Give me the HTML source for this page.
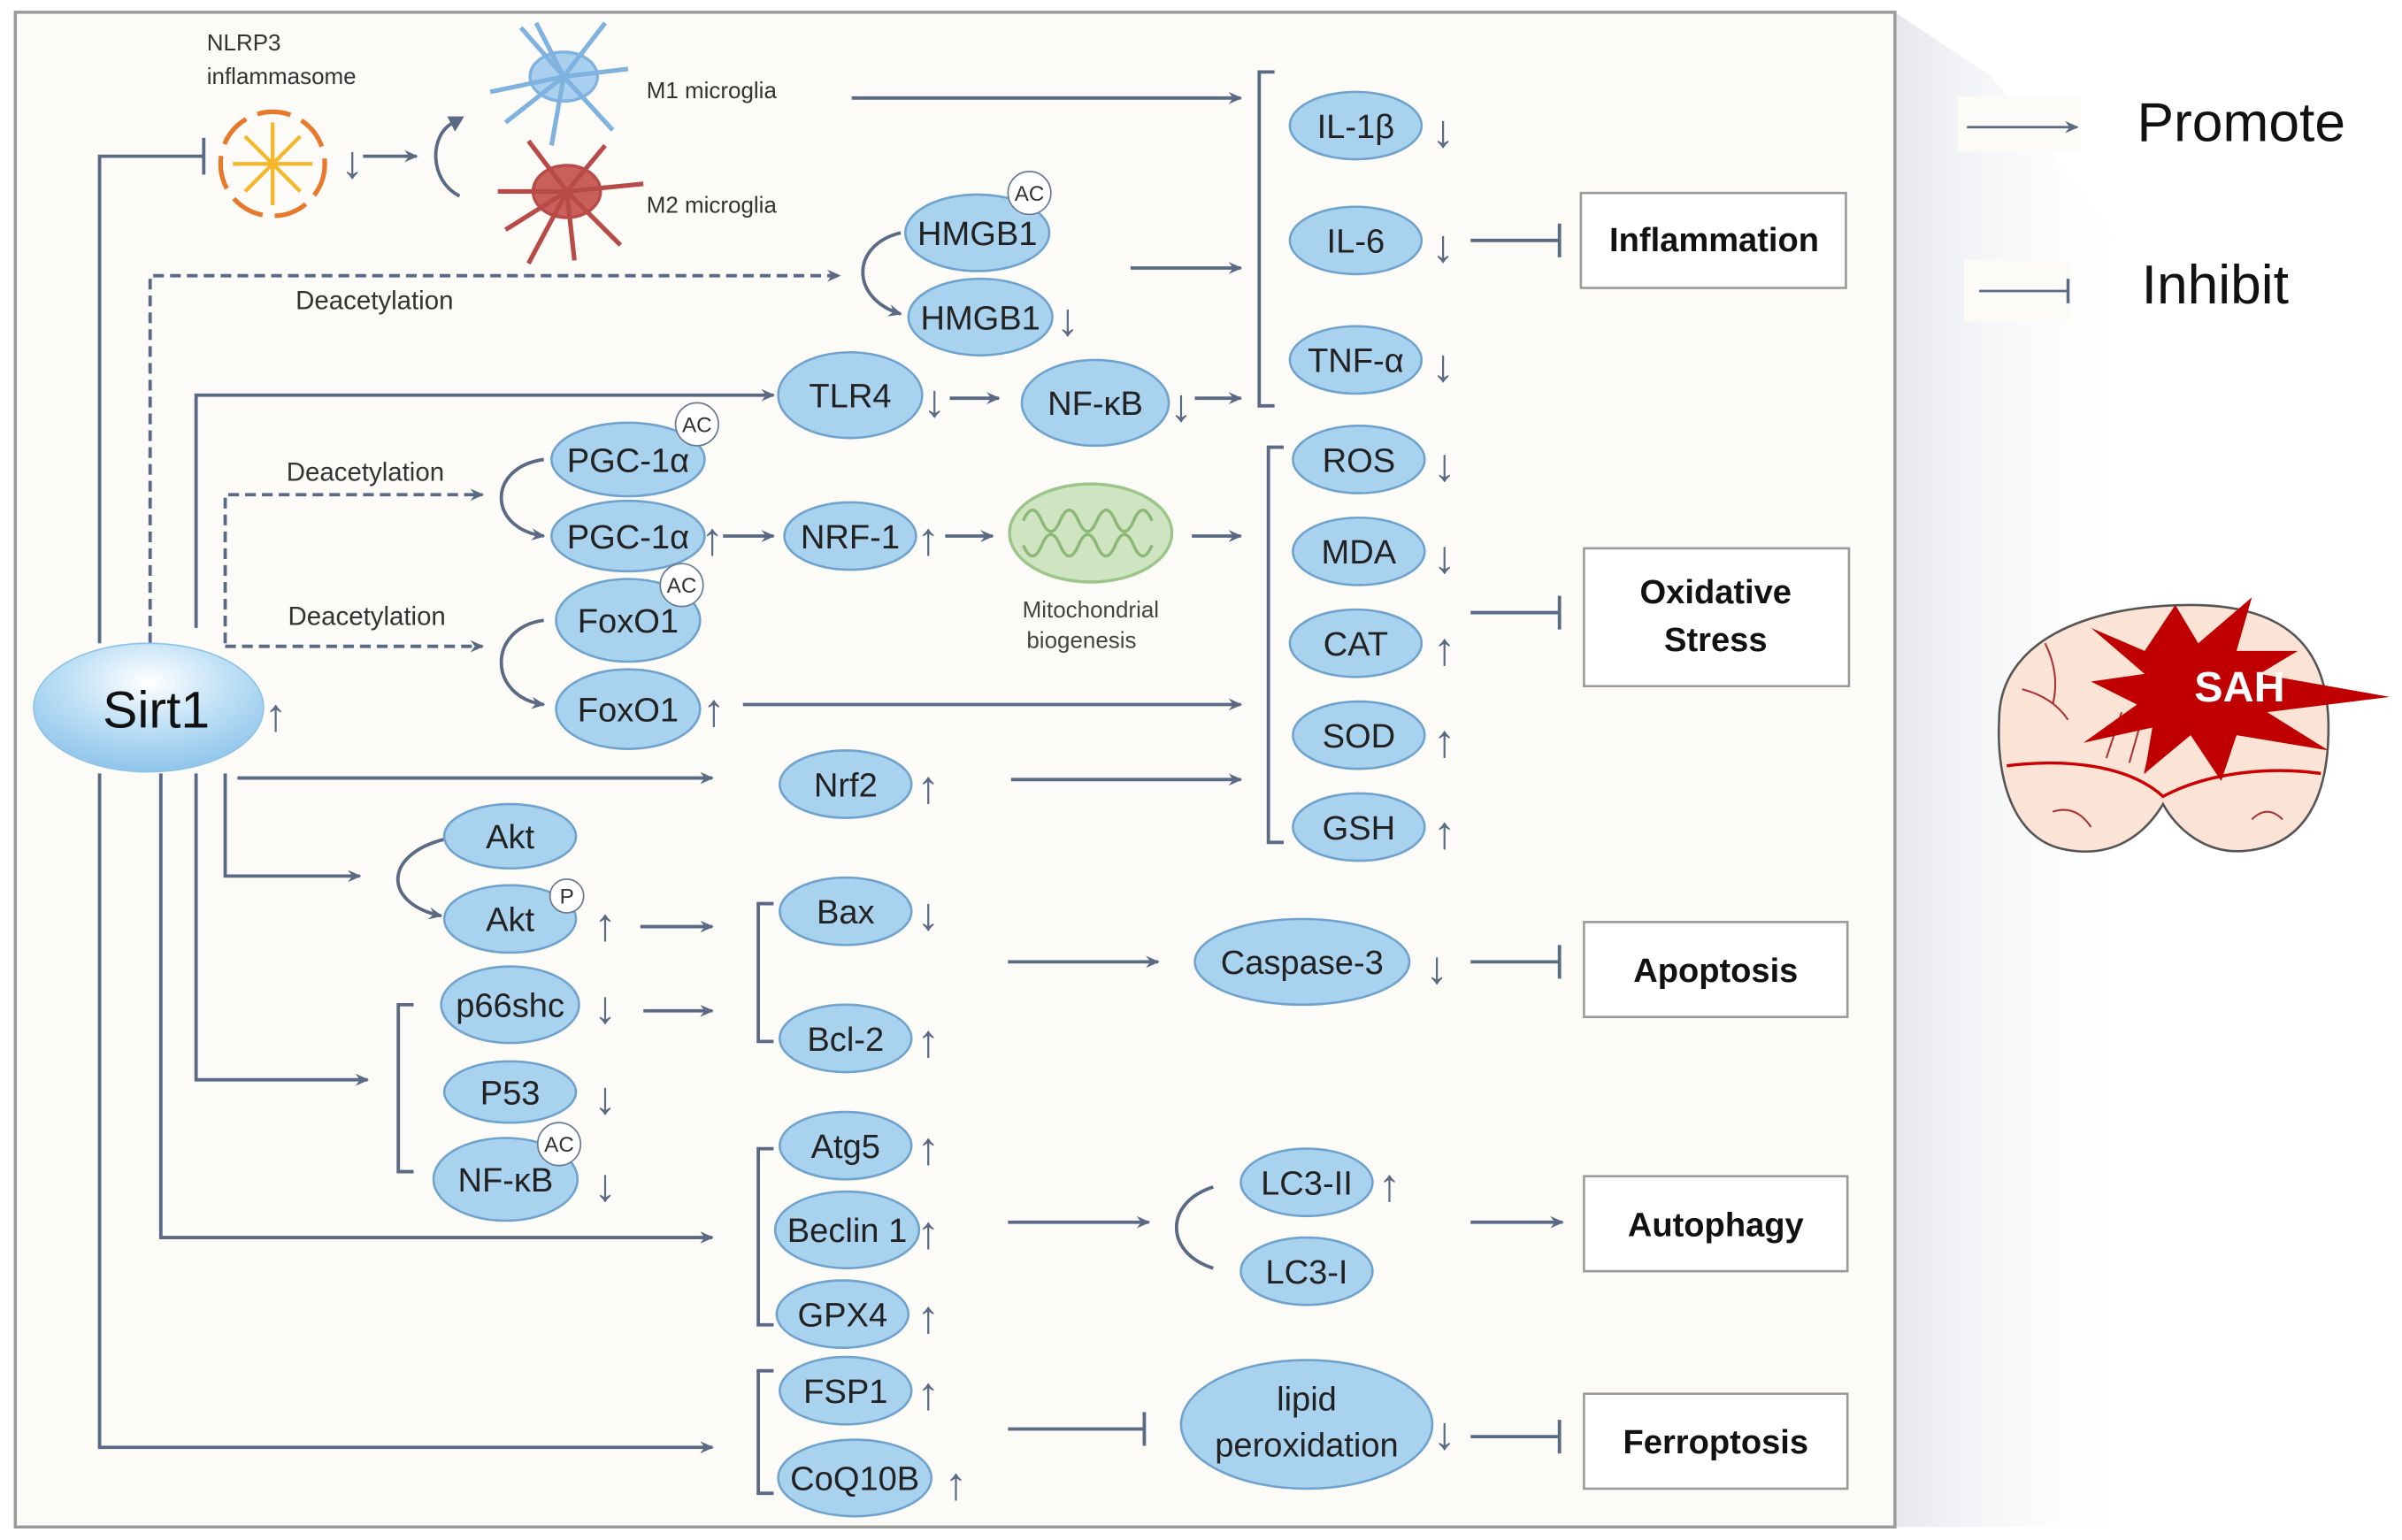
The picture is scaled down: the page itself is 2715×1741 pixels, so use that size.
<!DOCTYPE html>
<html><head><meta charset="utf-8"><style>
html,body{margin:0;padding:0;background:#fff;}
svg{display:block;}
text{font-family:"Liberation Sans",sans-serif;}
</style></head><body>
<svg width="2715" height="1741" viewBox="0 0 1568 1005.5" preserveAspectRatio="none" xmlns="http://www.w3.org/2000/svg">
<defs>
<marker id="a" markerWidth="10" markerHeight="10" refX="8" refY="5" orient="auto" markerUnits="userSpaceOnUse"><path d="M0,1 L9,5 L0,9 L3,5 Z" fill="#5a6a85"/></marker>
<linearGradient id="bg" x1="0" x2="1"><stop offset="0" stop-color="#e6e8ee"/><stop offset="1" stop-color="#fff" stop-opacity="0"/></linearGradient>
<radialGradient id="sg" cx="0.5" cy="0.3" r="0.7"><stop offset="0" stop-color="#ffffff"/><stop offset="0.5" stop-color="#bfe0f6"/><stop offset="1" stop-color="#8fc4ea"/></radialGradient>
</defs>
<polygon points="1237,8 1300,50 1400,180 1400,997 1237,997" fill="url(#bg)"/>
<rect x="10" y="8" width="1227" height="989" fill="#fcfbf7" stroke="#9a9a9a" stroke-width="2"/>
<g stroke="#5a6a85" stroke-width="2.2" fill="none">
<rect x="1278" y="63" width="80" height="36" fill="#fcfbf7" stroke="none"/>
<rect x="1282" y="170" width="70" height="40" fill="#fcfbf7" stroke="none"/>
<line x1="1284" y1="83" x2="1356" y2="83" marker-end="url(#a)" stroke-width="1.6"/>
<line x1="1292" y1="190" x2="1350" y2="190" stroke-width="1.6"/><line x1="1350" y1="182" x2="1350" y2="198" stroke-width="2"/>
<polyline points="65,420 65,102 133,102"/><line x1="133" y1="90" x2="133" y2="114"/>
<polyline points="65,505 65,945 465,945" marker-end="url(#a)"/>
<polyline points="98,420 98,180 548,180" stroke-dasharray="7,4" marker-end="url(#a)"/>
<polyline points="128,410 128,258 505,258" marker-end="url(#a)"/>
<polyline points="147,420 147,323 315,323" stroke-dasharray="7,4" marker-end="url(#a)"/>
<line x1="147" y1="422" x2="315" y2="422" stroke-dasharray="7,4" marker-end="url(#a)"/>
<polyline points="147,505 147,572 235,572" marker-end="url(#a)"/>
<line x1="155" y1="508" x2="465" y2="508" marker-end="url(#a)"/>
<polyline points="128,505 128,705 240,705" marker-end="url(#a)"/>
<polyline points="105,505 105,808 465,808" marker-end="url(#a)"/>
<line x1="237" y1="102" x2="272" y2="102" marker-end="url(#a)"/>
<path d="M300,128 C280,118 280,88 296,80"/>
<line x1="556" y1="64" x2="810" y2="64" marker-end="url(#a)"/>
<line x1="738" y1="175" x2="810" y2="175" marker-end="url(#a)"/>
<path d="M588,152 C555,160 555,195 588,205" marker-end="url(#a)"/>
<line x1="620" y1="260" x2="652" y2="260" marker-end="url(#a)"/>
<line x1="780" y1="260" x2="810" y2="260" marker-end="url(#a)"/>
<polyline points="832,47 822,47 822,265 832,265"/>
<line x1="960" y1="157" x2="1018" y2="157"/><line x1="1018" y1="146" x2="1018" y2="168"/>
<path d="M355,300 C318,305 318,345 355,350" marker-end="url(#a)"/>
<path d="M355,405 C318,410 318,455 355,460" marker-end="url(#a)"/>
<line x1="472" y1="350" x2="505" y2="350" marker-end="url(#a)"/>
<line x1="617" y1="350" x2="648" y2="350" marker-end="url(#a)"/>
<line x1="778" y1="350" x2="810" y2="350" marker-end="url(#a)"/>
<line x1="485" y1="460" x2="810" y2="460" marker-end="url(#a)"/>
<line x1="660" y1="509" x2="810" y2="509" marker-end="url(#a)"/>
<polyline points="838,292 828,292 828,550 838,550"/>
<line x1="960" y1="400" x2="1018" y2="400"/><line x1="1018" y1="389" x2="1018" y2="411"/>
<path d="M290,548 C250,558 250,590 288,598" marker-end="url(#a)"/>
<line x1="418" y1="605" x2="465" y2="605" marker-end="url(#a)"/>
<line x1="420" y1="660" x2="465" y2="660" marker-end="url(#a)"/>
<polyline points="270,656 260,656 260,765 270,765"/>
<polyline points="505,590 495,590 495,680 505,680"/>
<line x1="658" y1="628" x2="756" y2="628" marker-end="url(#a)"/>
<line x1="960" y1="628" x2="1018" y2="628"/><line x1="1018" y1="617" x2="1018" y2="639"/>
<polyline points="505,750 495,750 495,865 505,865"/>
<line x1="658" y1="798" x2="750" y2="798" marker-end="url(#a)"/>
<path d="M792,775 C760,785 760,818 792,828"/>
<line x1="960" y1="798" x2="1020" y2="798" marker-end="url(#a)"/>
<polyline points="505,895 495,895 495,975 505,975"/>
<line x1="658" y1="933" x2="747" y2="933"/><line x1="747" y1="922" x2="747" y2="944"/>
<line x1="960" y1="938" x2="1018" y2="938"/><line x1="1018" y1="927" x2="1018" y2="949"/>
</g>
<path d="M292,76 L303,76 L297,86 Z" fill="#5a6a85"/>
<g>
<ellipse cx="178" cy="107" rx="34" ry="34" fill="none" stroke="#e8782a" stroke-width="3" stroke-dasharray="22,8"/>
<g stroke="#f5b82a" stroke-width="2.5">
<line x1="178" y1="80" x2="178" y2="134"/><line x1="152" y1="107" x2="204" y2="107"/>
<line x1="160" y1="89" x2="196" y2="125"/><line x1="196" y1="89" x2="160" y2="125"/>
</g>
</g>
<g fill="#a9d0ef" stroke="#7fb2df" stroke-width="2">
<ellipse cx="368" cy="50" rx="22" ry="16"/>
<path d="M368,50 L340,18 M368,50 L395,15 M368,50 L410,45 M368,50 L330,80 M368,50 L360,95 M368,50 L320,60 M368,50 L400,85 M368,50 L350,15" fill="none" stroke-width="3"/>
</g>
<g fill="#c9605c" stroke="#b84a48" stroke-width="2">
<ellipse cx="370" cy="125" rx="22" ry="17"/>
<path d="M370,125 L345,92 M370,125 L395,95 M370,125 L420,120 M370,125 L330,150 M370,125 L345,172 M370,125 L405,160 M370,125 L325,125 M370,125 L375,170" fill="none" stroke-width="3"/>
</g>
<g fill="#a9d2ef" stroke="#6fa3cd" stroke-width="1.5">
<ellipse cx="885" cy="82" rx="43" ry="22"/><ellipse cx="885" cy="157" rx="43" ry="22"/><ellipse cx="885" cy="235" rx="43" ry="22"/>
<ellipse cx="887" cy="300" rx="43" ry="22"/><ellipse cx="887" cy="360" rx="43" ry="22"/><ellipse cx="885" cy="420" rx="43" ry="22"/><ellipse cx="887" cy="480" rx="43" ry="22"/><ellipse cx="887" cy="540" rx="43" ry="22"/>
<ellipse cx="638" cy="152" rx="47" ry="25"/><ellipse cx="640" cy="207" rx="47" ry="25"/>
<ellipse cx="555" cy="258" rx="47" ry="28"/><ellipse cx="715" cy="263" rx="48" ry="28"/>
<ellipse cx="410" cy="300" rx="50" ry="24"/><ellipse cx="410" cy="350" rx="50" ry="23"/>
<ellipse cx="555" cy="350" rx="43" ry="22"/>
<ellipse cx="410" cy="405" rx="47" ry="27"/><ellipse cx="410" cy="463" rx="47" ry="26"/>
<ellipse cx="552" cy="512" rx="43" ry="22"/>
<ellipse cx="333" cy="546" rx="43" ry="21"/><ellipse cx="333" cy="600" rx="43" ry="22"/>
<ellipse cx="333" cy="656" rx="45" ry="25"/><ellipse cx="333" cy="713" rx="43" ry="20"/><ellipse cx="330" cy="770" rx="47" ry="27"/>
<ellipse cx="552" cy="595" rx="43" ry="22"/><ellipse cx="552" cy="678" rx="43" ry="22"/>
<ellipse cx="850" cy="628" rx="70" ry="28"/>
<ellipse cx="552" cy="748" rx="43" ry="22"/><ellipse cx="553" cy="803" rx="47" ry="25"/><ellipse cx="550" cy="858" rx="43" ry="22"/>
<ellipse cx="552" cy="908" rx="43" ry="22"/><ellipse cx="558" cy="965" rx="50" ry="25"/>
<ellipse cx="853" cy="772" rx="43" ry="22"/><ellipse cx="853" cy="830" rx="43" ry="22"/>
<ellipse cx="853" cy="930" rx="82" ry="42"/>
</g>
<ellipse cx="97" cy="462" rx="75" ry="42" fill="url(#sg)" stroke="#8fc4ea"/>
<ellipse cx="712" cy="348" rx="53" ry="32" fill="#cfe4c0" stroke="#9cc58a" stroke-width="2"/>
<path d="M668,340 q6,-14 12,0 t12,0 t12,0 t12,0 t12,0 t12,0 t12,0 M668,356 q6,14 12,0 t12,0 t12,0 t12,0 t12,0 t12,0 t12,0" fill="none" stroke="#8bb876" stroke-width="2"/>
<g fill="#fff" stroke="#6a7a95" stroke-width="1">
<circle cx="672" cy="126" r="14"/><circle cx="455" cy="277" r="14"/><circle cx="445" cy="382" r="14"/><circle cx="370" cy="585" r="11"/><circle cx="365" cy="747" r="14"/>
</g>
<g font-size="14" fill="#333" text-anchor="middle">
<text x="672" y="131">AC</text><text x="455" y="282">AC</text><text x="445" y="387">AC</text><text x="370" y="590">P</text><text x="365" y="752">AC</text>
</g>
<g font-size="22" fill="#222" text-anchor="middle">
<text x="885" y="90">IL-1β</text><text x="885" y="165">IL-6</text><text x="885" y="243">TNF-α</text>
<text x="887" y="308">ROS</text><text x="887" y="368">MDA</text><text x="885" y="428">CAT</text><text x="887" y="488">SOD</text><text x="887" y="548">GSH</text>
<text x="638" y="160">HMGB1</text><text x="640" y="215">HMGB1</text>
<text x="555" y="266">TLR4</text><text x="715" y="271">NF-κB</text>
<text x="410" y="308">PGC-1α</text><text x="410" y="358">PGC-1α</text><text x="555" y="358">NRF-1</text>
<text x="410" y="413">FoxO1</text><text x="410" y="471">FoxO1</text><text x="552" y="520">Nrf2</text>
<text x="333" y="554">Akt</text><text x="333" y="608">Akt</text><text x="333" y="664">p66shc</text><text x="333" y="721">P53</text><text x="330" y="778">NF-κB</text>
<text x="552" y="603">Bax</text><text x="552" y="686">Bcl-2</text><text x="850" y="636">Caspase-3</text>
<text x="552" y="756">Atg5</text><text x="553" y="811">Beclin 1</text><text x="550" y="866">GPX4</text>
<text x="552" y="916">FSP1</text><text x="558" y="973">CoQ10B</text>
<text x="853" y="780">LC3-II</text><text x="853" y="838">LC3-I</text>
<text x="853" y="921">lipid</text><text x="853" y="951">peroxidation</text>
</g>
<text x="102" y="475" font-size="34" fill="#111" text-anchor="middle">Sirt1</text>
<g font-size="15" fill="#333">
<text x="135" y="33">NLRP3</text><text x="135" y="55">inflammasome</text>
<text x="422" y="64">M1 microglia</text><text x="422" y="139">M2 microglia</text>
</g>
<g font-size="17" fill="#333">
<text x="193" y="202">Deacetylation</text><text x="187" y="314">Deacetylation</text><text x="188" y="408">Deacetylation</text>
</g>
<g font-size="15" fill="#444" text-anchor="middle"><text x="712" y="403">Mitochondrial</text><text x="706" y="423">biogenesis</text></g>
<g font-size="30" fill="#5a6a85" text-anchor="middle">
<text x="230" y="116">↓</text>
<text x="942" y="96">↓</text><text x="942" y="171">↓</text><text x="942" y="249">↓</text>
<text x="943" y="314">↓</text><text x="943" y="374">↓</text><text x="943" y="434">↑</text><text x="943" y="494">↑</text><text x="943" y="554">↑</text>
<text x="697" y="219">↓</text><text x="610" y="272">↓</text><text x="771" y="275">↓</text>
<text x="465" y="362">↑</text><text x="606" y="362">↑</text><text x="466" y="474">↑</text><text x="606" y="524">↑</text>
<text x="180" y="477">↑</text>
<text x="395" y="614">↑</text><text x="395" y="668">↓</text><text x="395" y="727">↓</text><text x="395" y="784">↓</text>
<text x="606" y="607">↓</text><text x="606" y="690">↑</text><text x="938" y="642">↓</text>
<text x="606" y="760">↑</text><text x="606" y="815">↑</text><text x="606" y="870">↑</text>
<text x="606" y="920">↑</text><text x="624" y="979">↑</text>
<text x="907" y="784">↑</text><text x="943" y="946">↓</text>
</g>
<g fill="#fff" stroke="#9a9a9a" stroke-width="1.5">
<rect x="1032" y="126" width="173" height="62"/><rect x="1034" y="358" width="173" height="90"/>
<rect x="1034" y="602" width="172" height="62"/><rect x="1034" y="768" width="172" height="62"/><rect x="1034" y="910" width="172" height="62"/>
</g>
<g font-size="22" font-weight="bold" fill="#111" text-anchor="middle">
<text x="1119" y="164">Inflammation</text><text x="1120" y="394">Oxidative</text><text x="1120" y="425">Stress</text>
<text x="1120" y="641">Apoptosis</text><text x="1120" y="807">Autophagy</text><text x="1120" y="949">Ferroptosis</text>
</g>
<g font-size="36" fill="#111"><text x="1395" y="92">Promote</text><text x="1398" y="198">Inhibit</text></g>
<path d="M1305,470 C1305,420 1360,395 1430,395 C1500,395 1520,430 1520,475 C1520,520 1505,550 1470,555 C1440,560 1420,540 1412,525 C1400,545 1380,560 1350,555 C1315,550 1303,510 1305,470 Z" fill="#fbe3d6" stroke="#555" stroke-width="1.5"/>
<path d="M1310,500 C1350,495 1390,500 1412,520 C1440,505 1480,500 1515,505" fill="none" stroke="#c00" stroke-width="2"/>
<path d="M1320,450 q20,5 30,20 M1335,420 q10,20 5,40 M1340,530 q15,-5 25,10 M1470,535 q10,-10 20,0 M1375,495 l10,-30 M1390,498 l8,-28 M1400,505 l6,-25" fill="none" stroke="#a33" stroke-width="1.2"/>
<polygon points="1365,410 1400,425 1420,395 1435,420 1470,390 1460,425 1500,425 1475,440 1560,455 1480,465 1520,490 1460,480 1450,510 1430,480 1400,505 1405,475 1360,485 1395,460 1365,445 1400,440" fill="#c00000"/>
<text x="1462" y="458" font-size="28" font-weight="bold" fill="#fff" text-anchor="middle">SAH</text>
</svg>
</body></html>
